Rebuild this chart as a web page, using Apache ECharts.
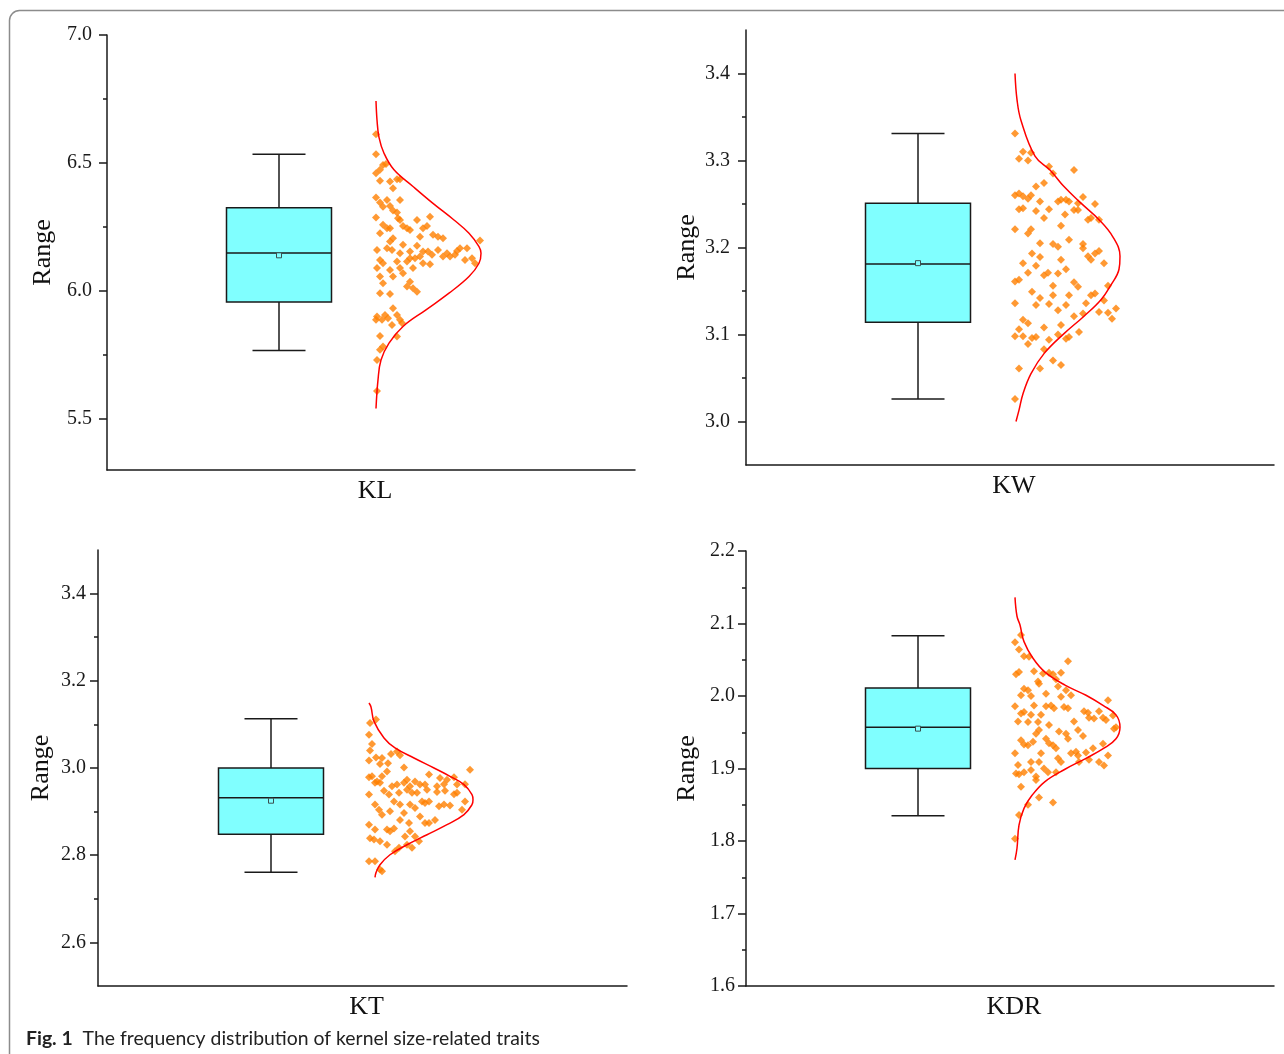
<!DOCTYPE html>
<html><head><meta charset="utf-8">
<script src="https://cdn.jsdelivr.net/npm/echarts@6/dist/echarts.min.js"></script>
<style>html,body{margin:0;padding:0;background:#fff}#c{width:1284px;height:1054px}</style>
</head><body><div id="c"></div>
<script>
// ---------------- DATA ----------------
const categories = ['KL', 'KW', 'KT', 'KDR'];
const axisTitle = 'Range';
const captionBold = 'Fig. 1';
const captionText = 'The frequency distribution of kernel size-related traits';

// box: [min whisker, Q1, median, Q3, max whisker]
const KL_box = [5.767, 5.957, 6.148, 6.325, 6.534];
const KW_box = [3.026, 3.114, 3.181, 3.251, 3.331];
const KT_box = [2.761, 2.848, 2.932, 3.000, 3.113];
const KDR_box = [1.835, 1.900, 1.957, 2.011, 2.083];
const KL_mean = 6.139, KW_mean = 3.182, KT_mean = 2.925, KDR_mean = 1.955;

// y-axis ranges and tick labels
const KL_range = [5.3, 7.0],  KL_ticks = [5.5, 6.0, 6.5, 7.0],  KL_minor = [5.75, 6.25, 6.75];
const KW_range = [2.95, 3.45], KW_ticks = [3.0, 3.1, 3.2, 3.3, 3.4], KW_minor = [3.05, 3.15, 3.25, 3.35];
const KT_range = [2.5, 3.5],  KT_ticks = [2.6, 2.8, 3.0, 3.2, 3.4], KT_minor = [2.7, 2.9, 3.1, 3.3];
const KDR_range = [1.6, 2.2], KDR_ticks = [1.6, 1.7, 1.8, 1.9, 2.0, 2.1, 2.2], KDR_minor = [1.65, 1.75, 1.85, 1.95, 2.05, 2.15];

// scatter points: [jitter offset, value]
const KL_points = [[0,6.612],[0,6.534],[7,6.492],[10,6.496],[0,6.460],[4,6.473],[4,6.430],[14,6.427],[21,6.436],[24,6.436],[17,6.401],[0,6.365],[4,6.345],[11,6.355],[24,6.355],[14,6.332],[7,6.329],[17,6.314],[21,6.306],[0,6.287],[22,6.284],[24,6.277],[41,6.277],[54,6.290],[7,6.258],[11,6.245],[14,6.245],[27,6.254],[31,6.245],[34,6.238],[51,6.254],[47,6.245],[4,6.225],[44,6.212],[57,6.219],[62,6.212],[67,6.206],[17,6.206],[14,6.193],[27,6.180],[41,6.176],[11,6.167],[1,6.160],[16,6.160],[104,6.197],[24,6.147],[34,6.154],[47,6.154],[52,6.154],[62,6.160],[71,6.147],[81,6.156],[84,6.167],[91,6.167],[34,6.128],[31,6.115],[4,6.121],[7,6.108],[21,6.115],[39,6.128],[44,6.134],[56,6.141],[67,6.134],[74,6.134],[79,6.141],[89,6.121],[96,6.128],[99,6.108],[1,6.089],[14,6.082],[24,6.089],[37,6.089],[47,6.108],[54,6.104],[27,6.069],[4,6.056],[7,6.030],[17,6.056],[34,6.036],[31,6.017],[37,6.010],[41,5.997],[4,5.991],[14,5.988],[17,5.932],[1,5.900],[9,5.906],[12,5.893],[21,5.906],[24,5.887],[0,5.887],[6,5.887],[16,5.867],[26,5.874],[4,5.824],[21,5.822],[7,5.783],[4,5.770],[1,5.730],[1,5.609]];
const KW_points = [[0,3.331],[8,3.310],[16,3.309],[4,3.302],[13,3.300],[34,3.293],[38,3.285],[59,3.289],[29,3.274],[21,3.270],[0,3.260],[4,3.262],[8,3.259],[13,3.256],[16,3.260],[25,3.253],[43,3.253],[46,3.255],[51,3.255],[54,3.253],[63,3.251],[68,3.258],[80,3.250],[4,3.244],[8,3.245],[21,3.242],[34,3.244],[59,3.243],[63,3.243],[50,3.238],[29,3.234],[73,3.232],[76,3.234],[84,3.232],[0,3.221],[13,3.216],[16,3.221],[46,3.225],[54,3.209],[25,3.205],[38,3.204],[43,3.201],[68,3.204],[68,3.199],[80,3.193],[84,3.196],[17,3.193],[25,3.189],[73,3.190],[76,3.186],[46,3.186],[8,3.182],[21,3.179],[51,3.175],[89,3.182],[13,3.171],[29,3.168],[33,3.171],[43,3.170],[0,3.161],[4,3.163],[38,3.156],[59,3.160],[63,3.155],[93,3.156],[17,3.149],[25,3.142],[38,3.145],[54,3.145],[76,3.145],[80,3.147],[0,3.136],[21,3.134],[34,3.135],[51,3.134],[71,3.136],[89,3.139],[43,3.128],[68,3.124],[84,3.126],[93,3.125],[101,3.130],[97,3.118],[8,3.117],[13,3.113],[4,3.106],[29,3.108],[46,3.111],[59,3.121],[0,3.098],[8,3.098],[17,3.096],[21,3.097],[43,3.100],[51,3.095],[54,3.097],[64,3.103],[13,3.089],[34,3.094],[29,3.083],[38,3.070],[46,3.065],[25,3.061],[4,3.061],[0,3.026]];
const KT_points = [[2,3.103],[8,3.111],[1,3.076],[4,3.055],[2,3.040],[1,3.017],[8,3.024],[14,3.023],[12,3.009],[23,3.032],[29,3.038],[32,3.029],[20,3.011],[36,3.001],[1,2.979],[4,2.981],[9,2.969],[14,2.981],[19,2.992],[7,2.966],[12,2.966],[24,2.958],[29,2.962],[36,2.966],[39,2.973],[42,2.958],[47,2.969],[52,2.962],[61,2.985],[57,2.962],[69,2.958],[72,2.977],[79,2.973],[76,2.963],[86,2.979],[89,2.962],[97,2.963],[102,2.996],[1,2.939],[16,2.948],[21,2.939],[31,2.943],[39,2.950],[44,2.943],[49,2.943],[59,2.950],[69,2.945],[77,2.948],[86,2.940],[89,2.943],[26,2.923],[42,2.916],[54,2.923],[57,2.920],[61,2.923],[71,2.912],[76,2.916],[82,2.914],[97,2.923],[94,2.904],[7,2.916],[11,2.904],[14,2.893],[22,2.901],[32,2.916],[36,2.897],[47,2.908],[52,2.889],[57,2.874],[61,2.874],[67,2.881],[1,2.870],[7,2.859],[19,2.859],[22,2.855],[26,2.861],[32,2.881],[41,2.874],[42,2.855],[47,2.843],[51,2.832],[2,2.839],[6,2.836],[12,2.832],[19,2.824],[37,2.843],[31,2.817],[27,2.809],[39,2.824],[44,2.817],[1,2.786],[7,2.786],[14,2.763],[12,2.767]];
const KDR_points = [[6,2.084],[0,2.074],[4,2.064],[9,2.055],[14,2.054],[53,2.048],[1,2.030],[4,2.033],[19,2.034],[28,2.031],[34,2.032],[38,2.030],[46,2.032],[23,2.020],[24,2.017],[41,2.023],[43,2.013],[9,2.010],[13,2.008],[51,2.008],[6,2.001],[16,2.000],[31,2.003],[46,1.999],[56,2.001],[93,1.994],[0,1.986],[19,1.987],[31,1.986],[36,1.987],[39,1.983],[49,1.985],[53,1.983],[6,1.976],[9,1.978],[16,1.974],[26,1.974],[69,1.979],[73,1.977],[84,1.979],[3,1.965],[13,1.964],[23,1.964],[34,1.960],[59,1.965],[74,1.970],[79,1.969],[88,1.970],[91,1.967],[98,1.973],[101,1.957],[99,1.955],[21,1.948],[24,1.953],[44,1.951],[51,1.948],[53,1.941],[63,1.953],[68,1.945],[6,1.939],[9,1.933],[13,1.932],[18,1.937],[31,1.941],[34,1.935],[38,1.932],[41,1.928],[88,1.934],[0,1.921],[26,1.921],[56,1.921],[61,1.923],[63,1.918],[71,1.922],[78,1.928],[93,1.918],[3,1.905],[16,1.909],[24,1.909],[43,1.914],[46,1.909],[64,1.909],[74,1.912],[84,1.909],[89,1.904],[1,1.893],[4,1.892],[9,1.895],[16,1.898],[21,1.889],[29,1.900],[33,1.895],[41,1.895],[21,1.884],[6,1.875],[24,1.860],[38,1.853],[13,1.850],[4,1.836],[0,1.803]];

// fitted distribution curves: [density offset, value]
const KL_curve = [[0,6.742],[1,6.668],[3,6.600],[8,6.538],[18,6.473],[37,6.408],[57,6.342],[78,6.277],[93,6.225],[103,6.173],[105,6.147],[103,6.108],[93,6.056],[73,5.991],[50,5.926],[27,5.861],[13,5.796],[5,5.730],[2,5.652],[0,5.540]];
const KW_curve = [[0,3.400],[2,3.370],[6,3.346],[20,3.305],[35,3.289],[49,3.270],[66,3.251],[84,3.232],[98,3.212],[105,3.190],[104,3.175],[96,3.157],[86,3.140],[69,3.121],[49,3.101],[29,3.078],[16,3.055],[8,3.032],[4,3.013],[1,3.000]];
const KT_curve = [[1,3.149],[3,3.140],[6,3.107],[16,3.069],[27,3.046],[46,3.023],[66,3.000],[82,2.981],[96,2.962],[104,2.939],[105,2.927],[104,2.916],[96,2.893],[79,2.870],[59,2.847],[39,2.824],[22,2.801],[12,2.778],[8,2.760],[7,2.749]];
const KDR_curve = [[0,2.136],[2,2.110],[5,2.098],[9,2.075],[18,2.052],[30,2.033],[50,2.015],[71,2.001],[88,1.987],[101,1.974],[105,1.957],[101,1.941],[89,1.928],[71,1.914],[50,1.899],[30,1.882],[17,1.863],[9,1.845],[4,1.822],[2,1.790],[0,1.774]];

// ---------------- LAYOUT ----------------
const panels = [
  {box: KL_box, mean: KL_mean, range: KL_range, ticks: KL_ticks, minor: KL_minor, pts: KL_points, curve: KL_curve,
   grid: {left: 107, top: 35, width: 528, height: 435}, nameGap: 51, labelMargin: 15, xmin: -269},
  {box: KW_box, mean: KW_mean, range: KW_range, ticks: KW_ticks, minor: KW_minor, pts: KW_points, curve: KW_curve,
   grid: {left: 746, top: 30, width: 528, height: 435}, nameGap: 46, labelMargin: 16, xmin: -269},
  {box: KT_box, mean: KT_mean, range: KT_range, ticks: KT_ticks, minor: KT_minor, pts: KT_points, curve: KT_curve,
   grid: {left: 98, top: 550, width: 529, height: 436}, nameGap: 44, labelMargin: 12, xmin: -270},
  {box: KDR_box, mean: KDR_mean, range: KDR_range, ticks: KDR_ticks, minor: KDR_minor, pts: KDR_points, curve: KDR_curve,
   grid: {left: 746, top: 551, width: 528, height: 435}, nameGap: 46, labelMargin: 11, xmin: -269}
];
const BOX_X = -97;       // box centre, in jitter units (base of scatter = 0)
const BOX_HALF = 52.5;   // px
const CAP_HALF = 26.5;   // px
const AX = '#1a1a1a';
const SERIF = 'Liberation Serif';

const grid = [], xAxis = [], yAxis = [], series = [];
panels.forEach((p, i) => {
  grid.push(Object.assign({containLabel: false}, p.grid));
  xAxis.push({
    type: 'value', gridIndex: i, min: p.xmin, max: p.xmin + p.grid.width,
    axisLine: {show: true, onZero: false, lineStyle: {color: AX, width: 1.5}},
    axisTick: {show: false}, axisLabel: {show: false}, splitLine: {show: false},
    name: categories[i], nameLocation: 'middle', nameGap: 8,
    nameTextStyle: {fontFamily: SERIF, fontSize: 26, color: '#111', padding: [0, 0, 0, 8], verticalAlign: 'top'}
  });
  yAxis.push({
    type: 'value', gridIndex: i, min: p.range[0], max: p.range[1], position: 'left',
    axisLine: {show: true, onZero: false, lineStyle: {color: AX, width: 1.5}},
    axisTick: {show: true, length: 8, lineStyle: {color: AX, width: 1.5}, customValues: p.ticks},
    axisLabel: {show: true, customValues: p.ticks, margin: p.labelMargin, fontFamily: SERIF, fontSize: 20, color: '#1a1a1a',
      formatter: v => Number(v).toFixed(1)},
    splitLine: {show: false},
    name: axisTitle, nameLocation: 'middle', nameGap: p.nameGap,
    nameTextStyle: {fontFamily: SERIF, fontSize: 26, color: '#111'}
  });
  yAxis.push({
    type: 'value', gridIndex: i, min: p.range[0], max: p.range[1], position: 'left', offset: 0,
    axisLine: {show: false, onZero: false},
    axisTick: {show: true, length: 4, lineStyle: {color: AX, width: 1.5}, customValues: p.minor},
    axisLabel: {show: false}, splitLine: {show: false}
  });
  series.push({
    type: 'custom', xAxisIndex: i, yAxisIndex: 2 * i, z: 3,
    data: [[BOX_X].concat(p.box, [p.mean])],
    renderItem: function (params, api) {
      const x = api.value(0);
      const c = k => api.coord([x, api.value(k)]);
      const pMin = c(1), pQ1 = c(2), pMed = c(3), pQ3 = c(4), pMax = c(5), pMean = c(6);
      const cx = pMin[0];
      const ls = {stroke: AX, lineWidth: 1.5};
      return {type: 'group', children: [
        {type: 'line', shape: {x1: cx, y1: pMax[1], x2: cx, y2: pQ3[1]}, style: ls},
        {type: 'line', shape: {x1: cx, y1: pQ1[1], x2: cx, y2: pMin[1]}, style: ls},
        {type: 'line', shape: {x1: cx - CAP_HALF, y1: pMax[1], x2: cx + CAP_HALF, y2: pMax[1]}, style: ls},
        {type: 'line', shape: {x1: cx - CAP_HALF, y1: pMin[1], x2: cx + CAP_HALF, y2: pMin[1]}, style: ls},
        {type: 'rect', shape: {x: cx - BOX_HALF, y: pQ3[1], width: 2 * BOX_HALF, height: pQ1[1] - pQ3[1]},
          style: {fill: '#80ffff', stroke: AX, lineWidth: 1.5}},
        {type: 'line', shape: {x1: cx - BOX_HALF, y1: pMed[1], x2: cx + BOX_HALF, y2: pMed[1]}, style: ls},
        {type: 'rect', shape: {x: cx - 2.5, y: pMean[1] - 2.5, width: 5, height: 5},
          style: {fill: '#80ffff', stroke: '#3a5050', lineWidth: 1}}
      ]};
    }
  });
  series.push({
    type: 'scatter', xAxisIndex: i, yAxisIndex: 2 * i, z: 4,
    symbol: 'diamond', symbolSize: [8, 8],
    itemStyle: {color: '#ff8000'},
    data: p.pts, animation: false
  });
  series.push({
    type: 'line', xAxisIndex: i, yAxisIndex: 2 * i, z: 5,
    data: p.curve, smooth: 0.4, showSymbol: false, symbol: 'none',
    lineStyle: {color: '#ff0000', width: 1.5}, animation: false
  });
});

const chart = echarts.init(document.getElementById('c'), null, {renderer: 'canvas'});
chart.setOption({
  backgroundColor: '#fff',
  animation: false,
  grid, xAxis, yAxis, series,
  graphic: [
    {type: 'rect', silent: true, z: -1,
      shape: {x: 9.5, y: 10.5, width: 1320, height: 1100, r: 10},
      style: {fill: 'none', stroke: '#8c8c8c', lineWidth: 1.5}},
    {type: 'text', left: 26, top: 1029,
      style: {text: '{b|' + captionBold + '}  ' + captionText, fontFamily: 'Lato', fontSize: 19.4, fill: '#222',
        rich: {b: {fontFamily: 'Lato', fontWeight: 'bold', fontSize: 19.4, fill: '#222'}}}}
  ]
});
</script></body></html>
